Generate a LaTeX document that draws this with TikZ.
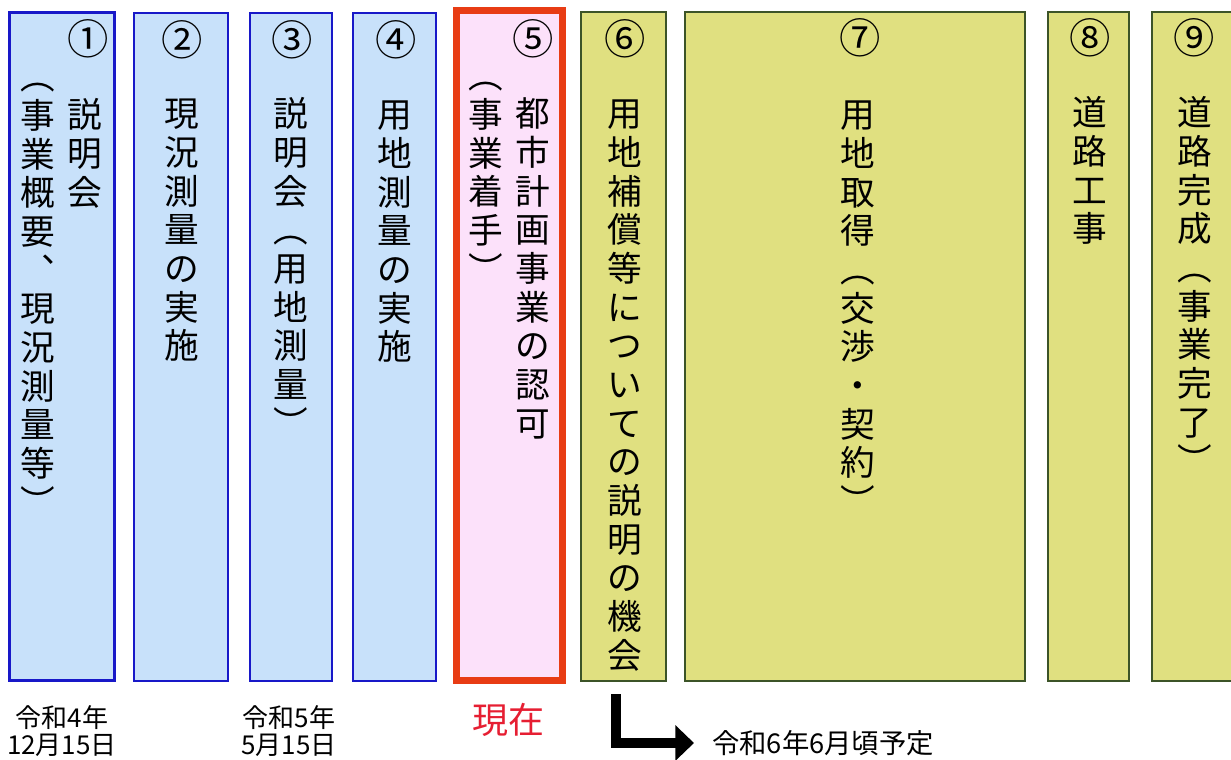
\documentclass[tikz,border=0pt]{standalone}
\usepackage{fontspec}
\setmainfont{Noto Sans CJK JP}
\usetikzlibrary{arrows.meta}

\definecolor{doneblue}{RGB}{200,225,250}
\definecolor{donebluedraw}{RGB}{24,24,200}
\definecolor{nowpink}{RGB}{252,225,250}
\definecolor{nowreddraw}{RGB}{232,60,20}
\definecolor{nowredtext}{RGB}{230,30,50}
\definecolor{nextolive}{RGB}{224,224,128}
\definecolor{nextolivedraw}{RGB}{60,84,40}

% vertical (tategaki) column of characters
\newdimen\tatepitch
\tatepitch=29pt
\def\tateend{}
\def\tateloop#1{\ifx#1\tateend\else\hbox to 1em{\hss\vrule height .88em depth .12em width 0pt\relax #1\hss}\expandafter\tateloop\fi}
\newcommand\tate[1]{\vbox{\baselineskip=\tatepitch\lineskiplimit=-\maxdimen\tateloop#1\tateend}}

\begin{document}
\begin{tikzpicture}[x=0.75pt,y=0.75pt,yscale=-1,xscale=1,
  donebox/.style={draw=donebluedraw,fill=doneblue,line width=2pt},
  nowbox/.style={draw=nowreddraw,fill=nowpink,line width=5pt},
  nextbox/.style={draw=nextolivedraw,fill=nextolive,line width=1.8pt},
  tatecol/.style={anchor=north,inner sep=0pt,font=\fontsize{26}{30}\selectfont},
  steplbl/.style={inner sep=0pt,font=\fontsize{31}{34}\selectfont},
  datelbl/.style={inner sep=0pt,align=center,font=\fontsize{19.5}{20.25}\selectfont}]
%set diagram left start at 0, and has height of 760
\useasboundingbox (0,0) rectangle (1231,760);

%Shape: Rectangle [id:dp01]
\draw [donebox] (9.5,12.5) rectangle (114.5,680.5);
%Shape: Rectangle [id:dp02]
\draw [donebox] (134,13) rectangle (228,681);
%Shape: Rectangle [id:dp03]
\draw [donebox] (250,13) rectangle (332,681);
%Shape: Rectangle [id:dp04]
\draw [donebox] (353,13) rectangle (436,681);
%Shape: Rectangle [id:dp05]
\draw [nowbox] (456.5,10.5) rectangle (562.5,680.5);
%Shape: Rectangle [id:dp06]
\draw [nextbox] (581,12) rectangle (666,681);
%Shape: Rectangle [id:dp07]
\draw [nextbox] (685,12) rectangle (1025,681);
%Shape: Rectangle [id:dp08]
\draw [nextbox] (1048,12) rectangle (1129,681);
%Shape: Rectangle [id:dp09]
\draw [nextbox] (1152,12) rectangle (1245,681);

% Text Node
\node [steplbl] (s1) at (88,39) {①};
\node [steplbl] (s2) at (182,40) {②};
\node [steplbl] (s3) at (292,40) {③};
\node [steplbl] (s4) at (396,40) {④};
\node [steplbl] (s5) at (533,39) {⑤};
\node [steplbl] (s6) at (625,39) {⑥};
\node [steplbl] (s7) at (860,38) {⑦};
\node [steplbl] (s8) at (1090,38) {⑧};
\node [steplbl] (s9) at (1194,38) {⑨};

% Text Node
\node [tatecol] (t1a) at (85,97) {\tate{説明会}};
\node [tatecol] (t1b) at (38,59) {\tate{︵事業概要︑現況測量等︶}};
% Text Node
\node [tatecol] (t2) at (182,96) {\tate{現況測量の実施}};
% Text Node
\node [tatecol] (t3) at (291,96) {\tate{説明会︵用地測量︶}};
% Text Node
\node [tatecol] (t4) at (395,97) {\tate{用地測量の実施}};
% Text Node
\node [tatecol] (t5a) at (533,96) {\tate{都市計画事業の認可}};
\node [tatecol] (t5b) at (486,58) {\tate{︵事業着手︶}};
% Text Node
\node [tatecol] (t6) at (625,96) {\tate{用地補償等についての説明の機会}};
% Text Node
\node [tatecol] (t7) at (858,97) {\tate{用地取得︵交渉・契約︶}};
% Text Node
\node [tatecol] (t8) at (1090,95) {\tate{道路工事}};
% Text Node
\node [tatecol] (t9) at (1195,95) {\tate{道路完成︵事業完了︶}};

% Text Node
\node [datelbl] (date4) at (62,731) {令和4年\\12月15日};
% Text Node
\node [datelbl] (date5) at (289,731) {令和5年\\5月15日};
% Text Node
\node [inner sep=0pt,text=nowredtext,font=\fontsize{27}{30}\selectfont] (now) at (508,720) {現在};
% Text Node
\node [datelbl,anchor=west,font=\fontsize{20.5}{22}\selectfont] (plan6) at (712,743) {令和6年6月頃予定};

%Straight Lines [id:da01]
\coordinate (plan6start) at (616,694);
\draw [line width=7.5pt,-{Triangle[length=14pt,width=26pt]},shorten >=13.5pt] (plan6start) |- (plan6.west);

\end{tikzpicture}
\end{document}
